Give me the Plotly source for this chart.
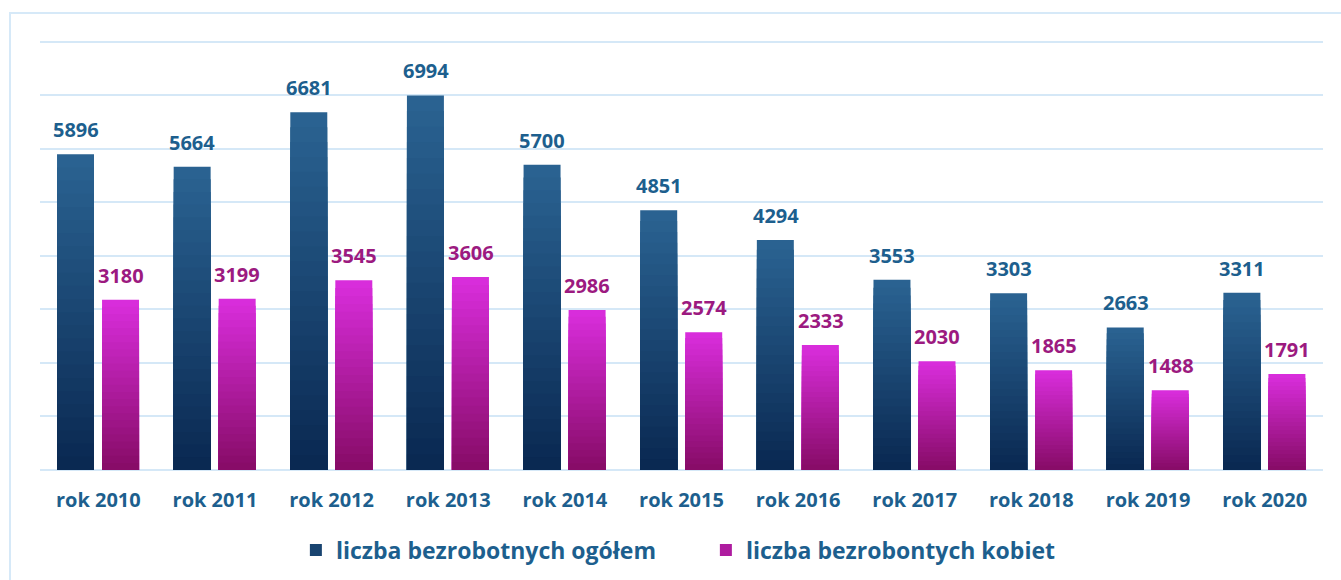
import plotly.graph_objects as go

categories = ["rok 2010", "rok 2011", "rok 2012", "rok 2013", "rok 2014", "rok 2015",
              "rok 2016", "rok 2017", "rok 2018", "rok 2019", "rok 2020"]
ogolem = [5896, 5664, 6681, 6994, 5700, 4851, 4294, 3553, 3303, 2663, 3311]
kobiety = [3180, 3199, 3545, 3606, 2986, 2574, 2333, 2030, 1865, 1488, 1791]
series_names = ["liczba bezrobotnych ogółem", "liczba bezrobontych kobiet"]

FONT = "Open Sans, Lato, sans-serif"
BLUE_TXT = "#1d5f8e"
PINK_TXT = "#9c1a80"
GRID = "#d5e8f7"

def lerp(c1, c2, t):
    a = [int(c1[i:i + 2], 16) for i in (1, 3, 5)]
    b = [int(c2[i:i + 2], 16) for i in (1, 3, 5)]
    return "rgb(%d,%d,%d)" % tuple(round(a[j] + (b[j] - a[j]) * t) for j in range(3))

N = 24
fig = go.Figure()
specs = [
    (ogolem, series_names[0], "#2a6291", "#0a2952", -0.354),
    (kobiety, series_names[1], "#d82ddb", "#880c68", 0.032),
]
for vals, name, top, bot, off in specs:
    for k in range(N):
        frac = (N - k) / N
        col = lerp(top, bot, k / (N - 1))
        fig.add_trace(go.Bar(
            x=categories, y=[v * frac for v in vals], name=name,
            marker=dict(color=col, line=dict(width=0)),
            offset=off, width=0.317,
            showlegend=(k == N // 2), legendgroup=name,
            hoverinfo="skip",
        ))

for vals, shift, col in [(ogolem, -22.5, BLUE_TXT), (kobiety, 22.5, PINK_TXT)]:
    for c, v in zip(categories, vals):
        fig.add_annotation(x=c, y=v, text=str(v), showarrow=False,
                           xshift=shift, yshift=9, yanchor="bottom",
                           font=dict(family=FONT, size=20, color=col, weight="bold"))

# outer frame
fig.add_shape(type="rect", xref="paper", yref="paper",
              x0=-30 / 1283, x1=1330 / 1283, y0=-0.5, y1=(470 - 13) / 430,
              line=dict(color="#d6e9f8", width=2), fillcolor="rgba(0,0,0,0)", layer="below")

fig.update_layout(
    width=1341, height=580,
    margin=dict(l=40, r=18, t=40, b=110, autoexpand=False),
    paper_bgcolor="white", plot_bgcolor="white",
    barmode="overlay",
    showlegend=True,
    legend=dict(orientation="h", x=0.519, xanchor="center", y=-0.186, yanchor="middle",
                font=dict(family=FONT, size=23, color=BLUE_TXT, weight="bold"),
                traceorder="normal", entrywidth=365, itemclick=False),
    xaxis=dict(showgrid=False, showline=False, zeroline=False,
               ticks="outside", ticklen=12, tickcolor="rgba(0,0,0,0)",
               tickfont=dict(family=FONT, size=20, color=BLUE_TXT, weight="bold")),
    yaxis=dict(range=[0, 8030], dtick=1000, showticklabels=False,
               showgrid=True, gridcolor=GRID, gridwidth=2,
               zeroline=True, zerolinecolor=GRID, zerolinewidth=2),
)

fig.write_html("out.html", config={"displayModeBar": False},
               post_script="document.body.style.margin='0';")
